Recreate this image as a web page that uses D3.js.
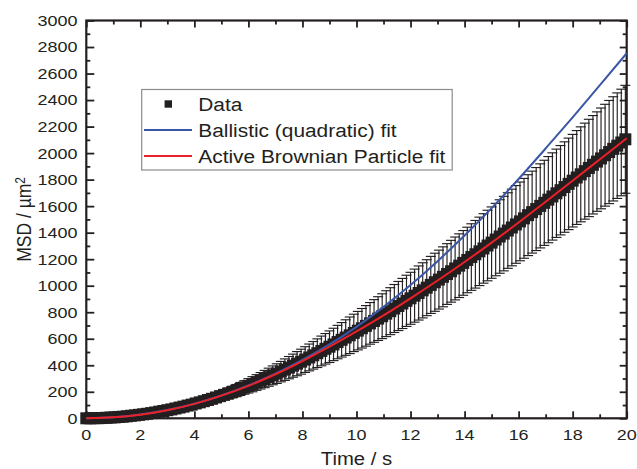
<!DOCTYPE html>
<html><head><meta charset="utf-8">
<script src="https://cdn.jsdelivr.net/npm/d3@7"></script>
<style>html,body{margin:0;padding:0;background:#fff;}</style>
</head><body>
<svg id="chart" width="637" height="469"></svg>
<script>
// ---------- data ----------
const time = [0,0.15,0.3,0.45,0.6,0.75,0.9,1.05,1.2,1.35,
  1.5,1.65,1.8,1.95,2.1,2.25,2.4,2.55,2.7,2.85,
  3,3.15,3.3,3.45,3.6,3.75,3.9,4.05,4.2,4.35,
  4.5,4.65,4.8,4.95,5.1,5.25,5.4,5.55,5.7,5.85,
  6,6.15,6.3,6.45,6.6,6.75,6.9,7.05,7.2,7.35,
  7.5,7.65,7.8,7.95,8.1,8.25,8.4,8.55,8.7,8.85,
  9,9.15,9.3,9.45,9.6,9.75,9.9,10.05,10.2,10.35,
  10.5,10.65,10.8,10.95,11.1,11.25,11.4,11.55,11.7,11.85,
  12,12.15,12.3,12.45,12.6,12.75,12.9,13.05,13.2,13.35,
  13.5,13.65,13.8,13.95,14.1,14.25,14.4,14.55,14.7,14.85,
  15,15.15,15.3,15.45,15.6,15.75,15.9,16.05,16.2,16.35,
  16.5,16.65,16.8,16.95,17.1,17.25,17.4,17.55,17.7,17.85,
  18,18.15,18.3,18.45,18.6,18.75,18.9,19.05,19.2,19.35,
  19.5,19.65,19.8,19.95];
const msd = [0,0,1,1,2,4,6,7,10,12,
  15,19,22,26,30,34,39,44,50,55,
  61,67,74,81,88,96,103,112,120,129,
  138,147,157,167,177,187,198,209,221,233,
  245,257,270,283,296,310,324,337,352,367,
  382,397,412,427,443,459,475,491,508,524,
  540,557,575,592,609,626,644,661,679,697,
  716,734,752,770,789,808,828,847,866,886,
  905,925,945,965,985,1006,1026,1046,1067,1088,
  1109,1130,1151,1172,1194,1216,1237,1259,1281,1303,
  1325,1348,1371,1393,1416,1439,1462,1485,1508,1532,
  1555,1578,1602,1625,1649,1673,1697,1720,1744,1768,
  1792,1816,1840,1864,1888,1912,1936,1960,1984,2008,
  2032,2056,2080,2104];
const msdErr = [2,2,2,2,2,3,3,3,4,4,
  5,5,6,7,8,8,9,10,11,12,
  14,15,16,18,19,21,23,25,26,28,
  30,32,35,37,39,41,44,46,49,51,
  54,57,59,62,65,68,71,74,77,81,
  84,87,91,94,97,101,104,108,112,115,
  119,122,126,130,134,138,141,145,149,153,
  157,161,165,169,173,177,181,185,189,193,
  196,200,204,208,211,215,219,222,226,229,
  233,237,240,244,247,251,255,258,262,266,
  269,273,277,281,285,289,293,297,301,305,
  309,313,317,321,325,329,333,337,341,345,
  349,354,358,362,367,371,375,380,384,389,
  393,398,402,407];
const fitTime = [0,1,2,3,4,5,6,7,8,9,10,11,12,13,14,15,16,17,18,19,20];
const ballisticFit = [0,7,28,62,110,172,248,337,440,557,690,840,1005,1185,1378,1585,1805,2035,2270,2510,2753];
const abpFit = [0,7,27,61,109,171,245,332,432,540,655,776,905,1039,1179,1325,1477,1633,1792,1952,2112];
const xTickLabels = [0,2,4,6,8,10,12,14,16,18,20];
const xMinorTicks = [1,3,5,7,9,11,13,15,17,19];
const yTickLabels = [0,200,400,600,800,1000,1200,1400,1600,1800,2000,2200,2400,2600,2800,3000];
const yMinorTicks = [100,300,500,700,900,1100,1300,1500,1700,1900,2100,2300,2500,2700,2900];
const legendLabels = ["Data","Ballistic (quadratic) fit","Active Brownian Particle fit"];

// ---------- layout ----------
const plot = {left:86.3, right:626.7, top:20.5, bottom:418.3};
const INK = '#231f20', BLUE = '#3a57a7', RED = '#ec2027';
const SX = 1.16;
const FONT = '"Liberation Sans", Arial, Helvetica, sans-serif';

const x = d3.scaleLinear().domain([0,20]).range([plot.left, plot.right]);
const y = d3.scaleLinear().domain([0,3000]).range([plot.bottom, plot.top]);
const svg = d3.select('#chart');

function txt(s, px, py, size, anchor){
  return svg.append('text')
    .attr('transform', `translate(${px},${py}) scale(${SX},1)`)
    .attr('text-anchor', anchor)
    .style('font-family', FONT).style('font-size', size + 'px')
    .attr('fill', INK).text(s);
}

// frame
svg.append('rect').attr('x',plot.left).attr('y',plot.top)
  .attr('width',plot.right-plot.left).attr('height',plot.bottom-plot.top)
  .attr('fill','none').attr('stroke',INK).attr('stroke-width',2.2);

function tickAxis(gen, tx, ty, vals, size){
  const g = svg.append('g').attr('transform',`translate(${tx},${ty})`)
    .call(gen.tickValues(vals).tickSize(size).tickFormat(''));
  g.select('.domain').remove();
  g.selectAll('line').attr('stroke',INK).attr('stroke-width',1.8);
}
tickAxis(d3.axisBottom(x), 0, plot.bottom, xTickLabels, -7);
tickAxis(d3.axisBottom(x), 0, plot.bottom, xMinorTicks, -4);
tickAxis(d3.axisTop(x), 0, plot.top, xTickLabels, -7);
tickAxis(d3.axisTop(x), 0, plot.top, xMinorTicks, -4);
tickAxis(d3.axisLeft(y), plot.left, 0, yTickLabels, -8);
tickAxis(d3.axisLeft(y), plot.left, 0, yMinorTicks, -4);
tickAxis(d3.axisRight(y), plot.right, 0, yTickLabels, -7);
tickAxis(d3.axisRight(y), plot.right, 0, yMinorTicks, -4);

// tick labels
xTickLabels.forEach(v => txt(String(v), x(v), 440, 15.5, 'middle'));
yTickLabels.forEach(v => txt(String(v), 77.5, y(v) + 5.4, 15.5, 'end'));

// axis titles
txt('Time / s', (plot.left+plot.right)/2, 465, 17.5, 'middle');
const yt = svg.append('text')
  .attr('transform', `translate(31,${(plot.top+plot.bottom)/2}) scale(${SX},1) rotate(-90)`)
  .attr('text-anchor','middle')
  .style('font-family', FONT).style('font-size','17.5px').attr('fill',INK);
yt.append('tspan').text('MSD / µm');
yt.append('tspan').attr('dy','-0.45em').style('font-size','12px').text('2');

// data
const pts = time.map((t,i) => ({t, v: msd[i], e: msdErr[i]}));
const eb = svg.append('g').attr('stroke', INK).attr('stroke-width', 1.15);
const capW = 5;
pts.forEach(d => {
  const cx = x(d.t), y1 = y(d.v + d.e), y2 = y(d.v - d.e);
  eb.append('line').attr('x1',cx).attr('x2',cx).attr('y1',y1).attr('y2',y2);
  eb.append('line').attr('x1',cx-capW).attr('x2',cx+capW).attr('y1',y1).attr('y2',y1);
  eb.append('line').attr('x1',cx-capW).attr('x2',cx+capW).attr('y1',y2).attr('y2',y2);
});
const sq = 12;
svg.append('g').selectAll('rect').data(pts).join('rect')
  .attr('x', d => x(d.t) - sq/2).attr('y', d => y(d.v) - sq/2)
  .attr('width', sq).attr('height', sq).attr('fill', INK);

// fit lines
const line = d3.line().x(d => x(d[0])).y(d => y(d[1])).curve(d3.curveMonotoneX);
svg.append('path').datum(fitTime.map((t,i)=>[t, ballisticFit[i]]))
  .attr('d', line).attr('fill','none').attr('stroke',BLUE).attr('stroke-width',2);
svg.append('path').datum(fitTime.map((t,i)=>[t, abpFit[i]]))
  .attr('d', line).attr('fill','none').attr('stroke',RED).attr('stroke-width',2);

// legend
svg.append('rect').attr('x',141.7).attr('y',89.5).attr('width',310.5).attr('height',80.5)
  .attr('fill','#fff').attr('stroke','#8c8c8c').attr('stroke-width',1.2);
svg.append('rect').attr('x',168.3-3.7).attr('y',104-3.7).attr('width',7.4).attr('height',7.4).attr('fill',INK);
svg.append('line').attr('x1',144).attr('x2',192).attr('y1',130).attr('y2',130).attr('stroke',BLUE).attr('stroke-width',2);
svg.append('line').attr('x1',144).attr('x2',192).attr('y1',156).attr('y2',156).attr('stroke',RED).attr('stroke-width',2);
[110.5, 136.5, 162.5].forEach((by,i) => txt(legendLabels[i], 198.3, by, 18, 'start'));
</script>
</body></html>
